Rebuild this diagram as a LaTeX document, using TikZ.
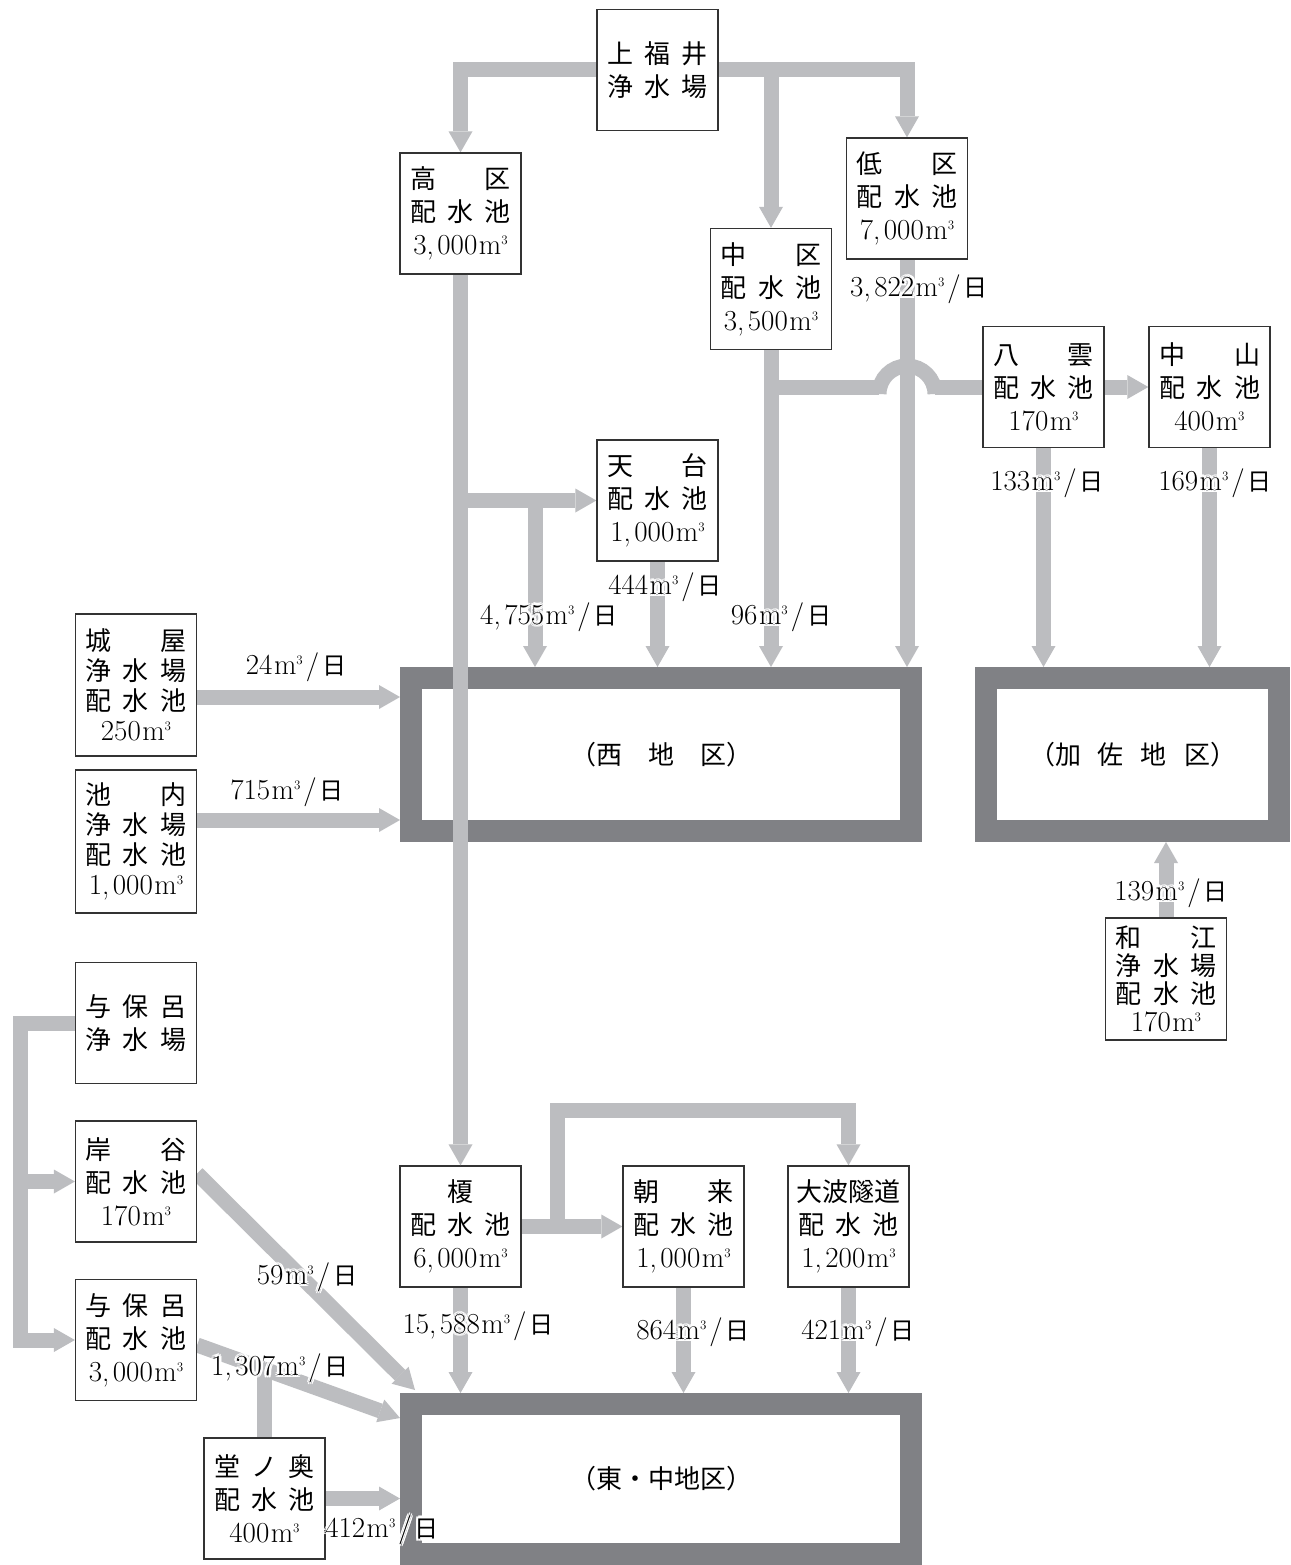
\documentclass[tikz,border=0pt]{standalone}
\usepackage{fontspec}
\usetikzlibrary{arrows.meta}
\newfontfamily\jp{Noto Sans CJK JP}
\definecolor{pipec}{HTML}{BCBDC0}
\definecolor{distc}{HTML}{808185}
\definecolor{boxc}{HTML}{333333}
\pgfdeclarelayer{bg}
\pgfsetlayers{bg,main}
\newcommand\cma{,\kern3.5pt}
\newcommand\mq{\kern1.5pt m\raisebox{10pt}{\fontsize{13}{13}\selectfont 3}}
\newcommand\vol[1]{{\normalfont\fontsize{29}{29}\selectfont #1\mq}}
\newcommand\lab[1]{{\normalfont\fontsize{29}{29}\selectfont #1\mq\kern3pt/\kern3pt{\jp\fontsize{24}{24}\selectfont 日}}}
\newcommand\ja[3]{\hbox to 101pt{#1\hfil#2\hfil#3}}
\newcommand\jb[2]{\hbox to 101pt{#1\hfil#2}}
\newcommand\lbl[3]{%
  \foreach \hx/\hy in {2.6/0,-2.6/0,0/2.6,0/-2.6,1.9/1.9,-1.9/1.9,1.9/-1.9,-1.9/-1.9}
    {\node[lbl,text=white] at ([shift={(\hx pt,\hy pt)}]#2) {\lab{#3}};}
  \node[lbl] (#1) at (#2) {\lab{#3}};}
\begin{document}
\begin{tikzpicture}[x=1pt,y=-1pt,
  box/.style={draw=boxc, line width=1.3pt, fill=white, inner sep=0pt, minimum width=121pt, minimum height=121pt, align=center, font=\jp\fontsize{26}{33}\selectfont},
  boxfour/.style={box, minimum height=142pt, font=\jp\fontsize{26}{30}\selectfont},
  district/.style={draw=distc, line width=22pt, outer sep=11pt, inner sep=0pt, font=\jp\fontsize{26}{30}\selectfont},
  pipe/.style={draw=pipec, line width=15pt},
  arr/.style={-{Triangle[width=24pt,length=21pt,line width=0pt]}},
  lbl/.style={inner sep=0pt}]
\useasboundingbox (0,0) rectangle (1290,1565);
% districts
\node[district, minimum width=500pt, minimum height=153pt] (nishi) at (661,754.5) {（西　地　区）};
\node[district, minimum width=293pt, minimum height=153pt] (kasa) at (1132.5,754.5) {（加\kern17pt 佐\kern17pt 地\kern17pt 区）};
\node[district, minimum width=500pt, minimum height=150pt] (higashi) at (661,1479) {（東・中地区）};
% boxes
\node[box] (kami) at (657.5,70) {\ja{上}{福}{井}\\\ja{浄}{水}{場}};
\node[box] (koku) at (460.5,213.5) {\jb{高}{区}\\\ja{配}{水}{池}\\\vol{3\cma000}};
\node[box] (chu) at (771,289) {\jb{中}{区}\\\ja{配}{水}{池}\\\vol{3\cma500}};
\node[box] (tei) at (907,198.5) {\jb{低}{区}\\\ja{配}{水}{池}\\\vol{7\cma000}};
\node[box] (yakumo) at (1043.5,387) {\jb{八}{雲}\\\ja{配}{水}{池}\\\vol{170}};
\node[box] (nakayama) at (1209.5,387) {\jb{中}{山}\\\ja{配}{水}{池}\\\vol{400}};
\node[box] (tendai) at (657.5,500.5) {\jb{天}{台}\\\ja{配}{水}{池}\\\vol{1\cma000}};
\node[boxfour] (shiroya) at (136,685) {\jb{城}{屋}\\\ja{浄}{水}{場}\\\ja{配}{水}{池}\\\vol{250}};
\node[boxfour, minimum height=143pt] (ikeuchi) at (136,841.5) {\jb{池}{内}\\\ja{浄}{水}{場}\\\ja{配}{水}{池}\\\vol{1\cma000}};
\node[box] (yohojo) at (136,1023) {\ja{与}{保}{呂}\\\ja{浄}{水}{場}};
\node[box] (kishi) at (136,1181.5) {\jb{岸}{谷}\\\ja{配}{水}{池}\\\vol{170}};
\node[box] (yohohai) at (136,1340) {\ja{与}{保}{呂}\\\ja{配}{水}{池}\\\vol{3\cma000}};
\node[box] (dounooku) at (264.5,1498.5) {\ja{堂}{ノ}{奥}\\\ja{配}{水}{池}\\\vol{400}};
\node[box] (enoki) at (460.5,1226.5) {榎\\\ja{配}{水}{池}\\\vol{6\cma000}};
\node[box] (asaku) at (683.5,1226.5) {\jb{朝}{来}\\\ja{配}{水}{池}\\\vol{1\cma000}};
\node[box] (oonami) at (848.5,1226.5) {\hbox to 104pt{大\hfil 波\hfil 隧\hfil 道}\\\ja{配}{水}{池}\\\vol{1\cma200}};
\node[boxfour, minimum height=122pt, font=\jp\fontsize{26}{28}\selectfont] (wae) at (1166,979) {\jb{和}{江}\\\ja{浄}{水}{場}\\\ja{配}{水}{池}\\\vol{170}};
% pipes (behind boxes)
\begin{pgfonlayer}{bg}
\fill[white] (0,0) rectangle (1290,1565);
\draw[pipe,arr] (kami.west) -| (koku.north);
\draw[pipe,arr] (kami.east) -| (tei.north);
\draw[pipe,arr] (kami.east -| chu.north) -- (chu.north);
\draw[pipe,arr] (koku.south |- tendai.west) -- (tendai.west);
\coordinate (tb) at (535,500.5);
\draw[pipe,arr] (tb) -- (tb |- nishi.north);
\draw[pipe,arr] (tendai.south) -- (tendai.south |- nishi.north);
\draw[pipe,arr] (chu.south) -- (chu.south |- nishi.north);
\draw[pipe,arr] (tei.south) -- (tei.south |- nishi.north);
\coordinate (hs) at (chu.south |- yakumo.west);
\coordinate (ha) at (879,387);
\coordinate (hb) at (935,387);
\draw[pipe] (hs) -- (ha);
\draw[pipe] (hb) -- (yakumo.west);
\draw[pipe] (879,394) arc[start angle=180,end angle=0,radius=28pt];
\draw[pipe,arr] (yakumo.east) -- (nakayama.west);
\draw[pipe,arr] (yakumo.south) -- (yakumo.south |- kasa.north);
\draw[pipe,arr] (nakayama.south) -- (nakayama.south |- kasa.north);
\draw[pipe,arr] (wae.north) -- (wae.north |- kasa.south);
\coordinate (s1) at ([yshift=-12pt]shiroya.east);
\draw[pipe,arr] (s1) -- (s1 -| nishi.west);
\coordinate (s2) at ([yshift=21.5pt]ikeuchi.east);
\draw[pipe,arr] (s2) -- (s2 -| nishi.west);
\coordinate (yv) at (20,1023);
\draw[pipe,arr] (yohojo.west) -- (yv) |- (yohohai.west);
\draw[pipe,arr] (yv |- kishi.west) -- (kishi.west);
\coordinate (k1) at ([yshift=8pt]kishi.east);
\coordinate (k2) at ([shift={(15pt,3pt)}]higashi.north west);
\draw[pipe,arr] (k1) -- (k2);
\coordinate (y1) at ([yshift=-5pt]yohohai.east);
\coordinate (y2) at ([yshift=-25pt]higashi.north west);
\draw[pipe,arr] (y1) -- (y2);
\draw[pipe] (dounooku.north) -- ++(0,-75);
\draw[pipe,arr] (dounooku.east) -- (dounooku.east -| higashi.west);
\draw[pipe,arr] (enoki.south) -- (enoki.south |- higashi.north);
\draw[pipe,arr] (enoki.east) -- (asaku.west);
\coordinate (e1) at (557,1226.5);
\draw[pipe,arr] (e1) -- (557,1110) -| (oonami.north);
\draw[pipe,arr] (asaku.south) -- (asaku.south |- higashi.north);
\draw[pipe,arr] (oonami.south) -- (oonami.south |- higashi.north);
\end{pgfonlayer}
% the long pipe from 高区 to 榎 runs over the 西地区 frame
\draw[pipe,arr] (koku.south) -- (enoki.north);
% labels with white halo
\lbl{l1}{919,289}{3\cma822}
\lbl{l2}{1047,483}{133}
\lbl{l3}{1215,483}{169}
\lbl{l4}{665,587}{444}
\lbl{l5}{549,617}{4\cma755}
\lbl{l6}{781,617}{96}
\lbl{l7}{296,667}{24}
\lbl{l8}{287,792}{715}
\lbl{l9}{1171,893}{139}
\lbl{l10}{307,1277}{59}
\lbl{l11}{478,1326}{15\cma588}
\lbl{l12}{693,1332}{864}
\lbl{l13}{858,1332}{421}
\lbl{l14}{280,1368}{1\cma307}
\lbl{l15}{382,1530}{412}
\end{tikzpicture}
\end{document}
